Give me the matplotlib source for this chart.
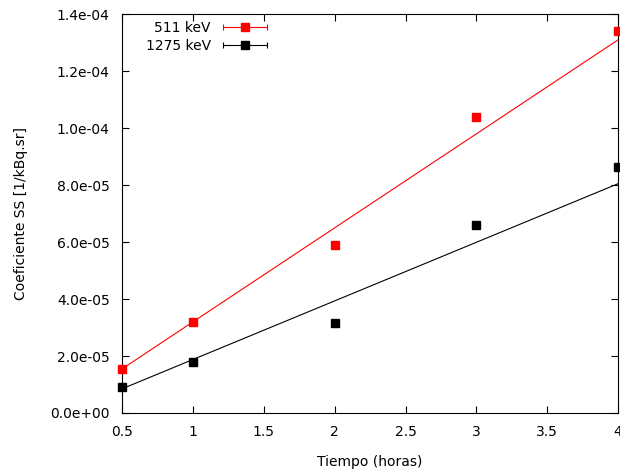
import numpy as np
import matplotlib
matplotlib.use("Agg")
import matplotlib.pyplot as plt
from matplotlib.container import ErrorbarContainer
from matplotlib.legend_handler import HandlerErrorbar

# data
horas = [0.5, 1, 2, 3, 4]
ss_511 = [1.55e-5, 3.18e-5, 5.9e-5, 1.04e-4, 1.34e-4]
ss_1275 = [9.2e-6, 1.8e-5, 3.15e-5, 6.6e-5, 8.62e-5]

# fitted lines (end points)
fit_x = [0.5, 4]
fit_511 = [1.55e-5, 1.31e-4]
fit_1275 = [8.5e-6, 8.05e-5]

xticks = [0.5, 1, 1.5, 2, 2.5, 3, 3.5, 4]
xlabels = ["0.5", "1", "1.5", "2", "2.5", "3", "3.5", "4"]
yticks = [0, 2e-5, 4e-5, 6e-5, 8e-5, 1e-4, 1.2e-4, 1.4e-4]

plt.rcParams["font.family"] = "DejaVu Sans"
plt.rcParams["font.size"] = 10

fig = plt.figure(figsize=(6.2, 4.72), dpi=100)
ax = fig.add_axes([0.197, 0.125, 0.8, 0.845])

ax.plot(fit_x, fit_511, color="red", lw=0.8)
ax.plot(fit_x, fit_1275, color="black", lw=0.8)
ax.plot(horas, ss_511, "s", color="red", ms=5.3, clip_on=False, zorder=3)
ax.plot(horas, ss_1275, "s", color="black", ms=5.3, clip_on=False, zorder=3)

# legend handles in gnuplot errorbar style
h1 = ax.errorbar([np.nan], [np.nan], xerr=[0], fmt="s", color="red", ms=5.3,
                 capsize=2.5, elinewidth=0.8, capthick=0.8)
h2 = ax.errorbar([np.nan], [np.nan], xerr=[0], fmt="s", color="black", ms=5.3,
                 capsize=2.5, elinewidth=0.8, capthick=0.8)
ax.legend([h1, h2], ["511 keV", "1275 keV"], markerfirst=False, frameon=False,
          loc="upper right", bbox_to_anchor=(276 / 620, 1 - 13 / 472),
          bbox_transform=fig.transFigure, handlelength=3.3, handletextpad=0.8,
          labelspacing=0.25, borderaxespad=0.2,
          handler_map={ErrorbarContainer: HandlerErrorbar(xerr_size=1.6)})

ax.set_xlim(0.5, 4)
ax.set_ylim(0, 1.4e-4)
ax.set_xticks(xticks)
ax.set_xticklabels(xlabels)
ax.set_yticks(yticks)
ax.set_yticklabels(["%.1e" % v for v in yticks])
ax.tick_params(direction="in", length=5, width=0.8, top=True, right=True, pad=9)

ax.set_xlabel("Tiempo (horas)", labelpad=11)
ax.set_ylabel("Coeficiente SS [1/kBq.sr]", labelpad=16)

fig.savefig("out.png", dpi=100)
